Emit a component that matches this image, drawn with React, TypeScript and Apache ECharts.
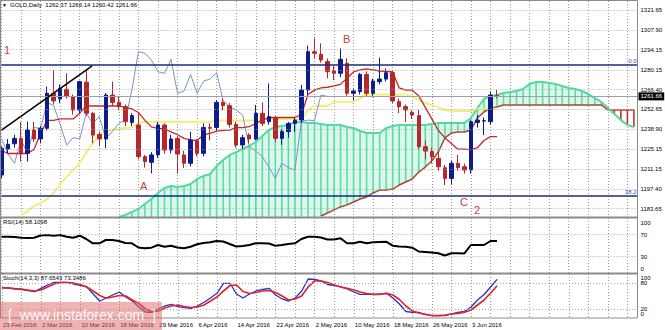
import React, { useEffect, useRef } from "react";
import * as echarts from "echarts";

// ---------- data ----------
const dateLabels = [
  "23 Feb 2016", "2 Mar 2016", "10 Mar 2016", "18 Mar 2016", "29 Mar 2016", "6 Apr 2016",
  "14 Apr 2016", "22 Apr 2016", "2 May 2016", "10 May 2016", "18 May 2016", "26 May 2016", "3 Jun 2016",
];

const opens = [1207.1,1225.1,1228.8,1232.5,1222.1,1238.3,1232.1,1239.5,1263.8,1259.9,
  1266.6,1261.5,1252.2,1271.5,1249.9,1235.3,1232.1,1262.6,1257.5,1254.5,
  1243.6,1241.8,1219.8,1215.9,1221,1241.8,1224.4,1232.5,1221,1215.2,
  1230.7,1222.1,1240,1240,1257.5,1255.2,1242.2,1227.9,1234.8,1232.1,
  1249.9,1244.1,1246.9,1232.5,1237.2,1242.9,1245.2,1266.1,1292.7,1290.9,
  1285.8,1279.3,1277.7,1284.6,1263.8,1265,1276.9,1263.8,1271.9,1273.7,
  1278.1,1258,1254.5,1250.6,1248.3,1226.7,1223.3,1218.6,1212.1,1204.7,
  1215.2,1212.8,1210.5,1243.6,1244.5,1244.1,1262.37];
const closes = [1225.6,1228.4,1232.5,1222.1,1238.3,1232.1,1239.5,1263.8,1258.5,1267.2,
  1261.5,1252.2,1271.9,1249.9,1234.8,1232.1,1262.6,1257.5,1254.5,1244.1,
  1248.3,1219.8,1216.3,1221,1241.8,1224.4,1232.1,1221.6,1215.2,1231.4,
  1222.1,1240,1239.5,1257.5,1255.2,1242.2,1227.9,1233,1232.1,1249.9,
  1242.9,1247.6,1232.5,1237.2,1242.9,1245.2,1266.1,1292.7,1291.6,1286.9,
  1278.8,1277.7,1287.4,1263.8,1265.4,1276.9,1263.8,1272.3,1273.7,1278.1,
  1258.5,1254.5,1252.2,1248.7,1226.7,1223.7,1219.8,1212.8,1204.7,1215.2,
  1212.2,1210.5,1244.1,1245.2,1244.8,1262.6,1261.66];
const highs = [1227,1232,1235,1244,1244.1,1244,1241,1268.4,1280,1270,
  1277.7,1263,1272.5,1280,1251,1237,1264,1271.9,1262,1256,
  1250,1250,1221,1223,1244,1243,1235,1234,1224,1237,
  1232,1243,1243,1259,1260,1257,1244,1235,1236,1255.7,
  1257.5,1270.7,1248,1239,1244,1247,1269.6,1296.9,1302,1298.5,
  1288,1283,1295,1288,1267,1278,1279,1274,1288.5,1281,
  1280,1260,1256,1252,1252.2,1231,1226,1223.3,1214,1217,
  1221,1215,1245,1248.7,1247,1265,1266.14];
const lows = [1205,1222,1226,1216.3,1216.3,1230,1229,1238,1256,1257,
  1260,1249,1250,1248,1229.1,1227,1225.6,1255,1252,1241,
  1241,1218,1212.2,1208.2,1219,1222,1222,1208,1212,1213,
  1220,1220,1231,1238,1252,1240,1226,1225,1229,1231,
  1241,1242,1230,1228,1233,1237,1243,1263,1288,1285,
  1274.2,1273,1275,1262,1259,1263,1262,1261,1270,1272,
  1257,1250,1244,1246,1225,1218,1215,1210,1200.1,1200.5,
  1210,1208,1208,1240,1234.8,1242,1260.42];

const tenkan = [1224,1222,1222,1222,1222,1225,1236,1245,1245,1246,
  1246,1246,1250,1255,1255,1255,1255,1255,1255,1254,
  1253,1250.5,1245,1240.5,1239.5,1239,1237,1235,1232.5,1231.5,
  1231,1235,1236,1237.5,1238,1238.3,1240,1240,1240.6,1243,
  1245,1247,1247,1247,1247,1247,1249,1263,1266,1267.5,
  1268,1269,1270,1274.5,1278.6,1280,1280.7,1280,1279.3,1279,
  1278.6,1267.5,1266,1266,1262,1254,1246,1238,1233,1229,
  1225,1225,1224.5,1226,1231,1233.7,1233.7];
const kijun = [null,null,null,1179,1182,1185.5,1187.6,1190.4,1194.6,1200.8,
  1205.8,1210.5,1215.4,1222.4,1229.3,1234.2,1237,1238.3,1239,1239.7,
  1240,1243,1244,1244,1244,1244,1244,1244,1244,1244,
  1244,1244,1244,1245,1245,1245,1245,1245,1245,1245,
  1245,1246,1246,1246,1246,1246,1246,1252,1255,1255,
  1255,1258,1258,1258,1258,1260.5,1263,1263,1263,1263,
  1263,1263,1263,1261.5,1259,1257,1255.7,1254,1252.2,1251.5,
  1251.5,1251.5,1251.5,1253,1253,1253,1253];

const senkouA = [null,null,null,null,null,null,null,null,null,null,
  null,null,null,null,null,null,null,null,1177.9,1179.3,
  1181.4,1183.5,1187,1190.4,1194.6,1198,1199.4,1198.7,1199.4,1200.8,
  1204.3,1206.4,1207.8,1213.3,1217.5,1221,1223,1225.1,1227.2,1230,
  1234.2,1238.3,1240.4,1241.1,1241.8,1243.9,1243.9,1243.2,1243.2,1242.5,
  1241.8,1241.8,1241.8,1240.4,1239.7,1237.6,1236.2,1236.2,1236.2,1239.7,
  1241.1,1241.8,1241.8,1241.8,1241.8,1241.8,1242.5,1243.2,1243.2,1243.2,
  1243.2,1243.2,1246.7,1253.6,1259.9,1262,1262.6,1264,1264.7,1265.4,
  1266.8,1270.3,1271.7,1271.7,1271,1270.3,1268.9,1267.5,1266.8,1265.4,
  1263.3,1260.5,1257.8,1253.6,1249.4,1245.2,1241.8,1240.4];
const senkouB = [null,null,null,null,null,null,null,null,null,null,
  null,null,null,null,null,null,null,null,null,null,
  null,null,null,null,null,null,null,null,null,null,
  null,null,null,null,null,null,null,null,null,null,
  null,null,null,null,null,null,null,null,null,1178.6,
  1180.7,1182.8,1184.9,1186.3,1188.3,1190.4,1191.8,1194.6,1196.6,1196.6,
  1197.3,1200.1,1202.2,1204.3,1209.1,1212.6,1216.8,1223,1232.8,1236.2,
  1236.9,1236.9,1238.3,1246.7,1250.8,1253.6,1254.3,1255.7,1255.7,1255.7,
  1255.7,1255.7,1255.7,1255.7,1255.7,1255.7,1255.7,1255.7,1255.7,1255.7,
  1255.7,1255.7,1255.7,1252.2,1252.2,1252.2,1252.2,1252.2];

const rsi = [66,66,65.5,64.2,63.6,64.2,68.2,69.1,67.8,69.1,
  66,64.2,67.8,61.8,54,54,60,60,58.2,54.5,
  54,46.4,44.9,46,50.9,47.8,49.6,46.4,44.9,47.8,
  52.2,54.5,55.8,58.2,57.3,52.7,48.2,49.1,50.9,54,
  54,53.6,49.6,50.9,52.7,54,61.8,66,66,64.5,
  60.9,60.9,63.1,54,54,56.9,54,55.8,56.4,56.9,
  49.6,48.2,47.8,46,39.1,38.2,37.3,35.8,31.8,35.8,
  35.8,35.5,50.9,50.9,50.9,58.2,58.1098];
const stochK = [68.9,68.2,65.9,64.8,62.5,59.8,67.5,75,81.1,81.1,
  81.1,77.3,74.3,71.1,54.5,38.6,45.5,52.3,59.1,47.7,
  38.6,25,13.6,13,20.5,27.3,31.1,26.1,23.4,22,
  27.3,35.7,45.5,56.1,78.9,78.9,54.5,45.5,54.5,61.4,
  64.8,67.5,52.3,43.2,38.6,45.5,61.4,88.6,87.5,84.1,
  76.1,73.9,70.5,65.9,59.1,53.9,53.9,53.9,54.5,56.1,
  45.5,31.8,14.8,13,12.5,8,5.2,5.2,5.2,9.1,
  12.5,14.8,25,40.9,53.4,70.5,87.6543];
const stochD = [68.2,68.2,67,65.9,63.6,61.4,63.6,70.5,77.3,80.7,
  80.7,79.5,76.1,70.5,61.4,51.1,44.8,47.7,51.1,50,
  40.9,33,20.5,14.3,15.9,22.7,27.3,29.5,26.1,23.9,
  25,29.5,38.6,47.7,61.4,73.9,75,60.2,55.7,58,
  61.4,62.5,58,50,40.9,43.2,50,70.5,84.1,84.1,
  80.7,75,70.5,67.5,63.6,59.1,55.7,53.9,53.9,56.1,
  52.3,42,27.3,15.9,11.4,8.4,5.7,5.2,6.8,9.1,
  10.7,13,18.2,29.5,40.9,56.8,73.3486];

const priceTicks = [1321.65, 1307.9, 1294.15, 1280.15, 1266.4, 1252.65, 1238.9, 1225.15, 1211.15, 1197.4, 1183.65];
const fibValues = [1283.4, 1192.6];
const fibNames = ["0.0", "38.2"];
const trendLine = [[0, 1238.3], [13.9, 1282.8]];
const rsiLevels = [70, 30];
const stochLevels = [80, 20];
const CHIKOU_SHIFT = 26;

// ---------- layout ----------
const X_MAX = 97.55;
const FONT = "Liberation Sans, Arial, sans-serif";
const GRID_LEFT = 1.5;
const GRID_RIGHT = 27.5;
const CLEAR = "rgba(0,0,0,0)";

export default function App() {
  const ref = useRef<HTMLDivElement>(null);

  useEffect(() => {
    if (!ref.current) return;
    const chart = echarts.init(ref.current, undefined, { renderer: "svg" });
    const last = closes.length - 1;

    const xBase = (gridIndex: number, showLabels: boolean) => ({
      type: "value" as const,
      gridIndex,
      min: 0,
      max: X_MAX,
      interval: 3,
      axisLine: { show: false },
      axisTick: { show: false },
      splitLine: { show: true, lineStyle: { color: "#9a9a9a", width: 1, type: [1, 2] } },
      axisLabel: showLabels
        ? {
            show: true,
            fontSize: 6,
            fontFamily: FONT,
            color: "#000",
            align: "left",
            margin: 4,
            padding: [0, 0, 0, 1],
            showMaxLabel: false,
            formatter: (v: number) => {
              const k = Math.round(v) / 6;
              return Number.isInteger(k) && k < dateLabels.length ? dateLabels[k] : "";
            },
          }
        : { show: false },
    });

    const yBase = (gridIndex: number, min: number, max: number) => ({
      type: "value" as const,
      gridIndex,
      min,
      max,
      axisLine: { show: false },
      axisTick: { show: false },
      axisLabel: { show: false },
      splitLine: { show: false },
    });

    const levelLabel = (extra: any = {}) => ({
      show: true,
      position: "end",
      distance: 3,
      fontSize: 6,
      fontFamily: FONT,
      color: "#000",
      formatter: (p: any) => String(p.value),
      ...extra,
    });

    const xy = (arr: (number | null)[]) => arr.map((v, i) => [i, v]);

    const cloudData = senkouA
      .map((a, i) => [i, a, senkouB[i]])
      .filter((d) => d[1] != null);

    const option: any = {
      animation: false,
      backgroundColor: "#ffffff",
      grid: [
        { left: GRID_LEFT, right: GRID_RIGHT, top: 1, height: 216 },
        { left: GRID_LEFT, right: GRID_RIGHT, top: 218, height: 55 },
        { left: GRID_LEFT, right: GRID_RIGHT, top: 274, height: 44 },
      ],
      xAxis: [xBase(0, false), xBase(1, false), xBase(2, true)],
      yAxis: [yBase(0, 1177.9, 1327.9), yBase(1, 0, 100), yBase(2, 0, 100)],
      series: [
        {
          type: "line",
          xAxisIndex: 0,
          yAxisIndex: 0,
          data: [[0, closes[0]]],
          showSymbol: false,
          lineStyle: { color: CLEAR },
          z: 0,
          silent: true,
          markLine: {
            silent: true,
            symbol: "none",
            animation: false,
            data: [
              ...priceTicks.map((v) => ({
                yAxis: v,
                lineStyle: { color: "#a8a8a8", width: 1, type: [1, 2] },
                label: levelLabel({ formatter: () => v.toFixed(2) }),
              })),
              ...fibValues.map((v, k) => ({
                yAxis: v,
                lineStyle: { color: "#1b2a7c", width: 1.5, type: "solid" },
                label: {
                  show: true,
                  position: "insideEndTop",
                  distance: 1,
                  fontSize: 6,
                  fontFamily: FONT,
                  color: "#3550b8",
                  formatter: () => fibNames[k],
                },
              })),
              {
                yAxis: closes[last],
                lineStyle: { color: "#a0a0a0", width: 1, type: "solid" },
                label: levelLabel({
                  distance: 1,
                  color: "#fff",
                  backgroundColor: "#000",
                  padding: [1, 2, 1, 2],
                  formatter: () => closes[last].toFixed(2),
                }),
              },
              [
                { coord: trendLine[0], lineStyle: { color: "#000", width: 1.5, type: "solid" }, label: { show: false } },
                { coord: trendLine[1] },
              ],
            ],
          },
        },
        {
          type: "custom",
          xAxisIndex: 0,
          yAxisIndex: 0,
          clip: true,
          z: 1,
          silent: true,
          data: cloudData,
          renderItem: (params: any, api: any) => {
            const i = api.value(0);
            const a = api.value(1);
            const bRaw = senkouB[i];
            const cs = params.coordSys;
            const bottom = cs.y + cs.height;
            const pA = api.coord([i, a]);
            const yB = bRaw == null ? bottom : api.coord([i, bRaw])[1];
            const red = bRaw != null && bRaw > a;
            const children: any[] = [];
            const an = senkouA[i + 1];
            if (an != null) {
              const bn = senkouB[i + 1];
              const pAn = api.coord([i + 1, an]);
              const yBn = bn == null ? bottom : api.coord([i + 1, bn])[1];
              const redNext = bn != null && bn > an;
              if (!red && !redNext) {
                children.push({
                  type: "polygon",
                  shape: { points: [pA, pAn, [pAn[0], yBn], [pA[0], yB]] },
                  style: { fill: "rgba(140,232,196,0.30)", stroke: "none" },
                });
              }
            }
            children.push({
              type: "line",
              shape: { x1: pA[0], y1: pA[1], x2: pA[0], y2: yB },
              style: { stroke: red ? "#b8362c" : "#5fdca6", lineWidth: 1.6 },
            });
            return { type: "group", children };
          },
        },
        {
          type: "line",
          xAxisIndex: 0,
          yAxisIndex: 0,
          data: xy(senkouB),
          showSymbol: false,
          z: 2,
          lineStyle: { color: "#ad4630", width: 1.5 },
        },
        {
          type: "line",
          xAxisIndex: 0,
          yAxisIndex: 0,
          data: xy(senkouA),
          showSymbol: false,
          z: 2,
          lineStyle: { color: "#55d89f", width: 2 },
        },
        {
          type: "line",
          xAxisIndex: 0,
          yAxisIndex: 0,
          data: xy(kijun),
          showSymbol: false,
          z: 2,
          lineStyle: { color: "#f3ee7a", width: 2 },
        },
        {
          type: "line",
          xAxisIndex: 0,
          yAxisIndex: 0,
          data: closes.slice(CHIKOU_SHIFT).map((c, j) => [j, c]),
          showSymbol: false,
          z: 2,
          lineStyle: { color: "#7a93c6", width: 1 },
        },
        {
          type: "line",
          xAxisIndex: 0,
          yAxisIndex: 0,
          data: xy(tenkan),
          showSymbol: false,
          z: 3,
          lineStyle: { color: "#c82828", width: 1.3 },
        },
        {
          type: "candlestick",
          xAxisIndex: 0,
          yAxisIndex: 0,
          clip: false,
          z: 4,
          barWidth: 4,
          data: closes.map((c, i) => [i, opens[i], c, lows[i], highs[i]]),
          itemStyle: {
            color: "#0c1c8c",
            color0: "#b3282a",
            borderColor: "#0c1c8c",
            borderColor0: "#b3282a",
            borderWidth: 1,
          },
        },
        {
          type: "line",
          xAxisIndex: 1,
          yAxisIndex: 1,
          data: xy(rsi),
          showSymbol: false,
          z: 3,
          lineStyle: { color: "#000", width: 2 },
          markLine: {
            silent: true,
            symbol: "none",
            animation: false,
            data: [
              ...rsiLevels.map((v) => ({
                yAxis: v,
                lineStyle: { color: "#a8a8a8", width: 1, type: [1, 2] },
                label: levelLabel(),
              })),
              { yAxis: 100, lineStyle: { color: CLEAR }, label: levelLabel({ offset: [0, 5] }) },
              { yAxis: 0, lineStyle: { color: CLEAR }, label: levelLabel({ offset: [0, -4] }) },
            ],
          },
        },
        {
          type: "line",
          xAxisIndex: 2,
          yAxisIndex: 2,
          data: xy(stochK),
          showSymbol: false,
          z: 3,
          lineStyle: { color: "#2233c8", width: 1.3 },
          markLine: {
            silent: true,
            symbol: "none",
            animation: false,
            data: [
              ...stochLevels.map((v) => ({
                yAxis: v,
                lineStyle: { color: "#a8a8a8", width: 1, type: [1, 2] },
                label: levelLabel(),
              })),
              { yAxis: 100, lineStyle: { color: CLEAR }, label: levelLabel({ offset: [0, 4] }) },
              { yAxis: 0, lineStyle: { color: CLEAR }, label: levelLabel({ offset: [0, -4] }) },
            ],
          },
        },
        {
          type: "line",
          xAxisIndex: 2,
          yAxisIndex: 2,
          data: xy(stochD),
          showSymbol: false,
          z: 3,
          lineStyle: { color: "#e3262a", width: 1.7 },
        },
      ],
      graphic: [
        {
          type: "rect",
          silent: true,
          z: 100,
          shape: { x: 0.5, y: 0.5, width: 637, height: 317.5 },
          style: { fill: "none", stroke: "#8a8a8a", lineWidth: 1 },
        },
        {
          type: "rect",
          silent: true,
          z: 100,
          shape: { x: 0, y: 216.5, width: 638, height: 2 },
          style: { fill: "#8c8c8c" },
        },
        {
          type: "rect",
          silent: true,
          z: 100,
          shape: { x: 0, y: 272.5, width: 638, height: 2 },
          style: { fill: "#8c8c8c" },
        },
        {
          type: "text",
          z: 100,
          left: 2,
          top: 2,
          style: { text: "\u25BC", fontSize: 5, fill: "#000", fontFamily: FONT },
        },
        {
          type: "text",
          z: 100,
          left: 10,
          top: 2,
          style: {
            text: `GOLD,Daily  ${opens[last].toFixed(2)} ${highs[last].toFixed(2)} ${lows[last].toFixed(2)} ${closes[last].toFixed(2)}`,
            fontSize: 6,
            fill: "#000",
            fontFamily: FONT,
          },
        },
        {
          type: "text",
          z: 100,
          left: 3,
          top: 219,
          style: { text: `RSI(14) ${rsi[last].toFixed(4)}`, fontSize: 6, fill: "#000", fontFamily: FONT },
        },
        {
          type: "text",
          z: 100,
          left: 3,
          top: 275,
          style: {
            text: `Stoch(14,3,3) ${stochK[last].toFixed(4)} ${stochD[last].toFixed(4)}`,
            fontSize: 6,
            fill: "#000",
            fontFamily: FONT,
          },
        },
        ...[
          { t: "1", x: 4, y: 44 },
          { t: "A", x: 140, y: 180 },
          { t: "B", x: 343, y: 33 },
          { t: "C", x: 460, y: 196 },
          { t: "2", x: 474, y: 204 },
        ].map((l) => ({
          type: "text",
          z: 100,
          left: l.x,
          top: l.y,
          style: { text: l.t, fontSize: 11, fill: "#c0433a", fontFamily: FONT },
        })),
        {
          type: "rect",
          silent: true,
          z: 110,
          shape: { x: 0, y: 302, width: 162, height: 28 },
          style: { fill: "rgba(224,104,104,0.5)" },
        },
        {
          type: "text",
          z: 111,
          left: 8,
          top: 308,
          style: {
            text: "[  www.instaforex.com  ]",
            fontSize: 14,
            fill: "rgba(255,255,255,0.9)",
            fontFamily: FONT,
          },
        },
      ],
    };

    chart.setOption(option);
    return () => chart.dispose();
  }, []);

  return (
    <div
      ref={ref}
      style={{ position: "absolute", left: 0, top: 0, width: 665, height: 330, background: "#fff" }}
    />
  );
}
